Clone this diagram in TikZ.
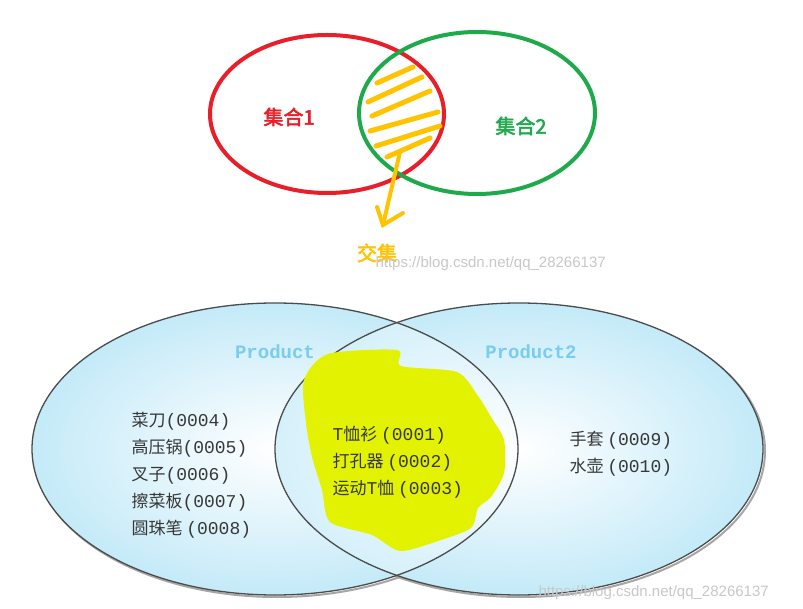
\documentclass[tikz,border=0pt]{standalone}
\usepackage{fontspec}
\setmainfont{Liberation Sans}
\newfontfamily\cjk{Noto Sans CJK SC}
\newfontfamily\cjkb{Noto Sans CJK SC}[FakeBold=2.5]
\newfontfamily\mono{Liberation Mono}
\newfontfamily\cour{Liberation Mono}
\usetikzlibrary{shadings}
\definecolor{setred}{RGB}{232,30,40}
\definecolor{setgreen}{RGB}{30,170,75}
\definecolor{hatch}{RGB}{255,195,0}
\definecolor{blobyellow}{RGB}{226,242,0}
\definecolor{lightblue}{RGB}{196,234,248}
\definecolor{prodblue}{RGB}{120,205,240}
\definecolor{itemgray}{RGB}{55,55,55}
\definecolor{wmgray}{RGB}{200,200,200}
\tikzset{
  setring/.style={line width=4pt},
  hatchline/.style={hatch, line width=5pt, line cap=round},
  arrowline/.style={hatch, line width=4pt, line cap=round},
  setlabel/.style={font=\cjkb\fontsize{20}{22}\selectfont},
  prodlabel/.style={prodblue, font=\cour\bfseries\fontsize{19}{20}\selectfont},
  itemlist/.style={itemgray, align=left, anchor=west, font=\cjk\fontsize{17}{27}\selectfont},
  watermark/.style={wmgray, font=\fontsize{15}{16}\selectfont, anchor=west},
  vennfill/.style={inner color=white, outer color=lightblue},
  vennline/.style={draw=black!70, line width=1.3pt}
}
\newcommand{\dg}[1]{{\mono\fontsize{18}{27}\selectfont #1}}
\begin{document}
\begin{tikzpicture}[x=1pt,y=-1pt]
\useasboundingbox (0,0) rectangle (803,609);
\fill[white] (0,0) rectangle (803,609);
% ---- top diagram ----
\draw[setring, setred] (327,114) ellipse [x radius=117pt, y radius=79pt];
\draw[setring, setgreen] (477,113) ellipse [x radius=118pt, y radius=81pt];
\draw[hatchline] (377,83) -- (413,67);
\draw[hatchline] (368,102) -- (422,77);
\draw[hatchline] (372,116) -- (430,91);
\draw[hatchline] (370,131) -- (438,112);
\draw[hatchline] (376,146) -- (440,126);
\draw[hatchline] (387,157) -- (430,138);
\coordinate (arrstart) at (400,152);
\coordinate (arrtip) at (383,225);
\coordinate (barbl) at (377,207);
\coordinate (barbr) at (403,213);
\draw[arrowline] (arrstart) -- (arrtip);
\draw[arrowline] (barbl) -- (arrtip) -- (barbr);
\node[setlabel, setred] (s1) at (289,117) {集合1};
\node[setlabel, setgreen] (s2) at (521,126) {集合2};
\node[setlabel, hatch] (inter) at (377,253) {交集};
\node[watermark] (wm1) at (372,264) {https://blog.csdn.net/qq\_28266137};
% ---- bottom diagram ----
\draw[black!35, line width=2pt] (277,451) ellipse [x radius=243pt, y radius=146pt];
\draw[black!35, line width=2pt] (521,451) ellipse [x radius=244pt, y radius=146pt];
\fill[vennfill] (275,449) ellipse [x radius=243pt, y radius=146pt];
\fill[vennfill] (519,449) ellipse [x radius=244pt, y radius=146pt];
\begin{scope}
\clip (275,449) ellipse [x radius=243pt, y radius=146pt];
\fill[inner color=white, outer color=lightblue!70] (519,449) ellipse [x radius=244pt, y radius=146pt];
\end{scope}
\draw[vennline] (275,449) ellipse [x radius=243pt, y radius=146pt];
\draw[vennline] (519,449) ellipse [x radius=244pt, y radius=146pt];
\fill[blobyellow] plot[smooth cycle, tension=0.45] coordinates {
 (328,354) (397,350) (401,366) (457,372) (478,396) (491,417) (504,440)
 (504,473) (491,497) (478,508) (471,528) (438,541) (400,551) (372,535)
 (330,522) (322,490) (312,457) (306,423) (304,380)};
\node[prodlabel] (p1) at (275,352) {Product};
\node[prodlabel] (p2) at (531,352) {Product2};
\node[itemlist] (left) at (128,475) {菜刀\dg{(0004)}\\高压锅\dg{(0005)}\\叉子\dg{(0006)}\\擦菜板\dg{(0007)}\\圆珠笔 \dg{(0008)}};
\node[itemlist] (mid) at (329,462) {\dg{T}恤衫 \dg{(0001)}\\打孔器 \dg{(0002)}\\运动\dg{T}恤 \dg{(0003)}};
\node[itemlist] (right) at (566,454) {手套 \dg{(0009)}\\水壶 \dg{(0010)}};
\node[watermark] (wm2) at (535,593) {https://blog.csdn.net/qq\_28266137};
\end{tikzpicture}
\end{document}
